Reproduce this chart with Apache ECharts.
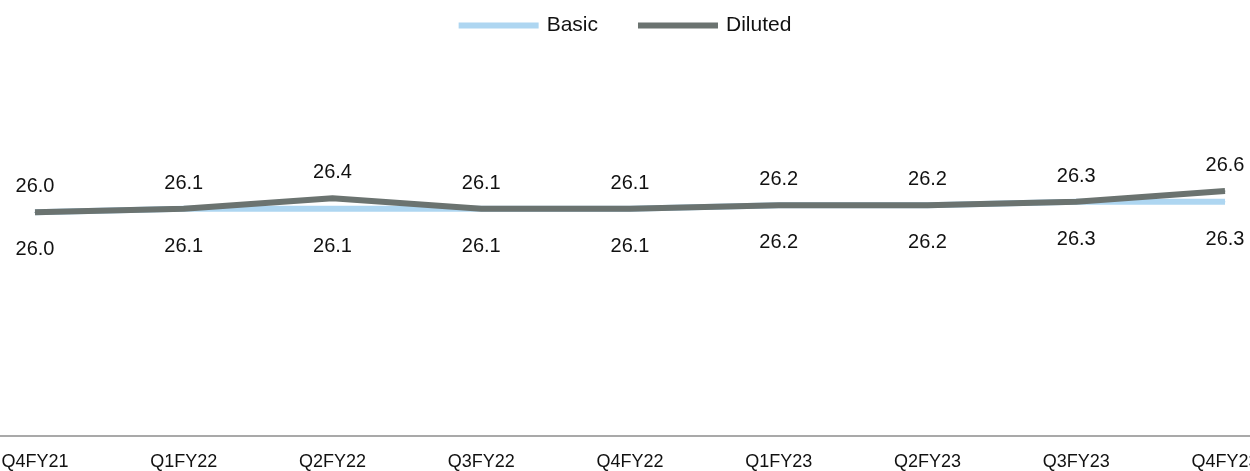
<!DOCTYPE html>
<html>
<head>
    <meta charset="utf-8">
    <script src="https://cdn.jsdelivr.net/npm/echarts@6/dist/echarts.min.js"></script>
    <style>
        html, body { margin: 0; padding: 0; background: #fff; }
    </style>
</head>
<body>
    <div id="main" style="width: 1250px;height:471px;"></div>
    <script>
        // quarters on the x axis
        var categories = ['Q4FY21', 'Q1FY22', 'Q2FY22', 'Q3FY22', 'Q4FY22', 'Q1FY23', 'Q2FY23', 'Q3FY23', 'Q4FY23'];
        // weighted shares
        var basicData = [26.0, 26.1, 26.1, 26.1, 26.1, 26.2, 26.2, 26.3, 26.3];
        var dilutedData = [26.0, 26.1, 26.4, 26.1, 26.1, 26.2, 26.2, 26.3, 26.6];

        var font = 'Liberation Sans, Arial, sans-serif';
        var myChart = echarts.init(document.getElementById('main'));

        var option = {
            animation: false,
            legend: {
                top: 10,
                left: 'center',
                icon: 'rect',
                itemWidth: 80,
                itemHeight: 6,
                itemGap: 40,
                textStyle: { fontFamily: font, fontSize: 21, color: '#111', padding: [0, 0, 0, 3] },
                data: ['Basic', 'Diluted']
            },
            grid: [
                { left: 35, right: 25, top: 81, bottom: 35, containLabel: false, outerBoundsMode: 'none' },
                // only for the full-width base line
                { left: 0, right: 0, top: 81, bottom: 35, containLabel: false, outerBoundsMode: 'none' }
            ],
            xAxis: [{
                type: 'category',
                data: categories,
                boundaryGap: false,
                axisLine: { show: false },
                axisTick: { show: false },
                axisLabel: { fontFamily: font, fontSize: 18, color: '#111', margin: 17, interval: 0, hideOverlap: false }
            }, {
                type: 'value',
                gridIndex: 1,
                min: 0,
                max: 1,
                axisLine: { show: true, lineStyle: { color: '#8c8c8c', width: 1.5 } },
                axisTick: { show: false },
                axisLabel: { show: false },
                splitLine: { show: false }
            }],
            yAxis: [{
                type: 'value',
                min: 19.7,
                max: 29.7,
                show: false,
                splitLine: { show: false }
            }, {
                type: 'value',
                gridIndex: 1,
                show: false
            }],
            series: [{
                name: 'Basic',
                type: 'line',
                data: basicData,
                symbol: 'circle',
                symbolSize: 1,
                color: '#aed6f1',
                lineStyle: { color: '#aed6f1', width: 6 },
                label: {
                    show: true,
                    position: 'bottom',
                    distance: 27,
                    fontFamily: font,
                    fontSize: 20,
                    color: '#111',
                    formatter: function (p) { return p.value.toFixed(1); }
                },
                z: 2
            }, {
                name: 'Diluted',
                type: 'line',
                data: dilutedData,
                symbol: 'circle',
                symbolSize: 1,
                color: '#6b7370',
                lineStyle: { color: '#6b7370', width: 6 },
                label: {
                    show: true,
                    position: 'top',
                    distance: 15,
                    fontFamily: font,
                    fontSize: 20,
                    color: '#111',
                    formatter: function (p) { return p.value.toFixed(1); }
                },
                z: 3
            }]
        };
        myChart.setOption(option);
    </script>
</body>
</html>
